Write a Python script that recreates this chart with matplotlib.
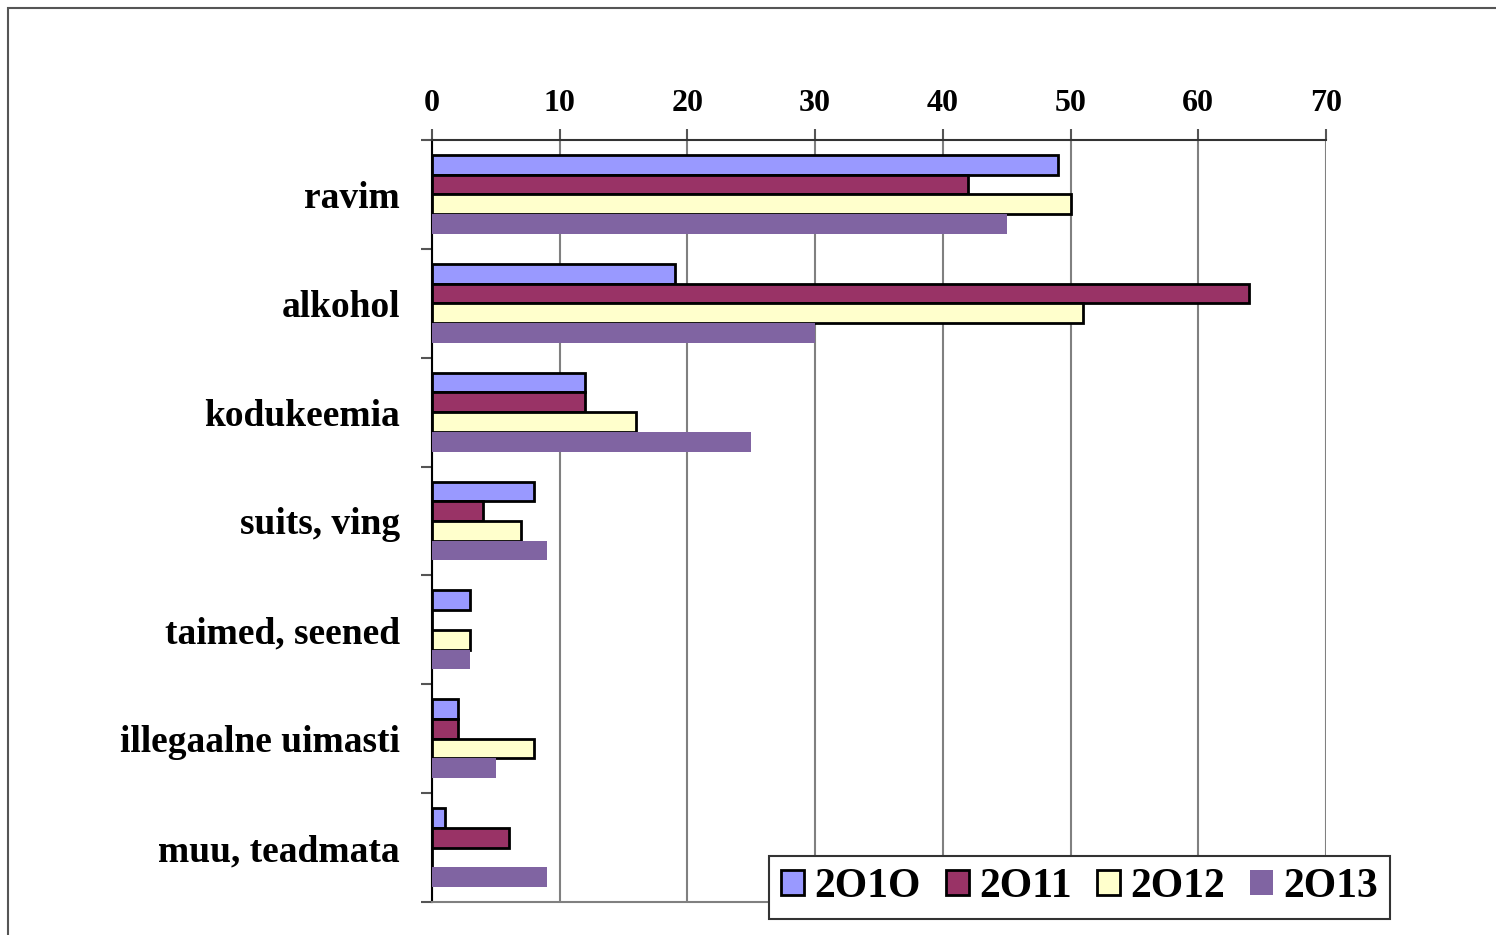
import matplotlib.pyplot as plt
from matplotlib.patches import Rectangle
import numpy as np

categories = ["ravim", "alkohol", "kodukeemia", "suits, ving",
              "taimed, seened", "illegaalne uimasti", "muu, teadmata"]
years = ["2O1O", "2O11", "2O12", "2O13"]
v2010 = [49, 19, 12, 8, 3, 2, 1]
v2011 = [42, 64, 12, 4, 0, 2, 6]
v2012 = [50, 51, 16, 7, 3, 8, 0]
v2013 = [45, 30, 25, 9, 3, 5, 9]

colors = ["#9999FF", "#993366", "#FFFFCC", "#8064A2"]
edges = ["black", "black", "black", "none"]

plt.rcParams['font.family'] = ['Liberation Serif', 'DejaVu Serif']
plt.rcParams['font.weight'] = 'bold'

fig = plt.figure(figsize=(14.96, 9.35), dpi=100)
# outer frame of the original chart object
fig.patches.append(Rectangle((8 / 1496, -0.1), 1.2, 1 - 8 / 935 + 0.1,
                             transform=fig.transFigure, fill=False,
                             edgecolor="#555555", lw=1.5))

ax = fig.add_axes([432 / 1496, 1 - 902 / 935, 894 / 1496, 762 / 935])

n = len(categories)
y = np.arange(n)
h = 0.181
series = [v2010, v2011, v2012, v2013]
for i, vals in enumerate(series):
    pos = y - 1.5 * h + i * h
    ax.barh(pos, vals, height=h, color=colors[i], edgecolor=edges[i],
            linewidth=2 if edges[i] != "none" else 0, label=years[i], zorder=3)

ax.set_xlim(0, 70)
ax.set_ylim(n - 0.5, -0.5)
ax.xaxis.tick_top()
ax.set_xticks(range(0, 71, 10))
ax.tick_params(axis='x', which='major', direction='out', length=8, width=1.5,
               color="#555555", pad=8, labelsize=23)
ax.grid(axis='x', color="#808080", lw=1.5, zorder=0)

ax.set_yticks(y)
ax.set_yticklabels(categories, fontsize=27)
ax.set_yticks(np.arange(-0.5, n, 1), minor=True)
ax.tick_params(axis='y', which='major', length=0, pad=23)
ax.tick_params(axis='y', which='minor', direction='out', length=8, width=1.5,
               color="#555555")

ax.spines['right'].set_visible(False)
ax.spines['top'].set_color("#333333")
ax.spines['top'].set_linewidth(1.5)
ax.spines['left'].set_color("black")
ax.spines['left'].set_linewidth(1.5)
ax.spines['bottom'].set_color("#808080")
ax.spines['bottom'].set_linewidth(1.5)

leg = fig.legend(loc='center', bbox_to_anchor=(0.7216, 0.0513), ncol=4,
                 fontsize=30, frameon=True, fancybox=False, framealpha=1,
                 edgecolor="#333333", handlelength=0.55, handleheight=0.55,
                 handletextpad=0.25, columnspacing=0.6, borderpad=0.3,
                 borderaxespad=0)
leg.get_frame().set_linewidth(1.5)

fig.savefig("out.png", dpi=100)
